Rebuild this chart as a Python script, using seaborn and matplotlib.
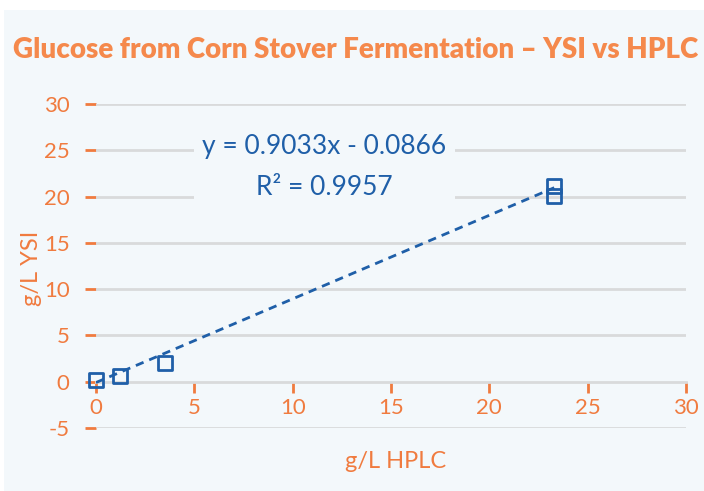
import matplotlib
matplotlib.use("Agg")
import matplotlib.pyplot as plt
import seaborn as sns
import pandas as pd
from matplotlib.patches import Rectangle

# values
hplc = [0.0, 1.2, 3.5, 23.3, 23.3]
ysi = [0.2, 0.6, 2.0, 21.1, 20.1]
slope = 0.9033
intercept = -0.0866
r2 = 0.9957
x_ticks = [0, 5, 10, 15, 20, 25, 30]
y_ticks = [-5, 0, 5, 10, 15, 20, 25, 30]

title = "Glucose from Corn Stover Fermentation \u2013 YSI vs HPLC"
orange = "#f07b3f"
title_orange = "#f5894c"
blue = "#1f5fa8"
bg = "#f3f8fb"
grid = "#d9dadb"

sns.set_theme(style="white")
plt.rcParams["font.family"] = ["Lato", "DejaVu Sans"]
plt.rcParams["axes.unicode_minus"] = False

df = pd.DataFrame({"hplc": hplc, "ysi": ysi})

fig = plt.figure(figsize=(7.04, 4.91), dpi=100, facecolor="white")
fig.patches.append(Rectangle((4 / 704, 0), 1, 1 - 10 / 491, transform=fig.transFigure,
                             facecolor=bg, edgecolor="none", zorder=-10))
ax = fig.add_axes([96 / 704, 1 - 428 / 491, 590 / 704, 324 / 491])
ax.set_facecolor("none")

# gridlines
for yv in y_ticks:
    if yv != 0:
        ax.axhline(yv, color=grid, lw=2, zorder=1)

# trendline
x_end = max(hplc)
ax.plot([0, x_end], [intercept, slope * x_end + intercept], ls=(0, (3, 2.2)),
        color=blue, lw=2, zorder=3)

sns.scatterplot(data=df, x="hplc", y="ysi", marker="s", s=100, facecolor="none",
                edgecolor=blue, linewidth=2, ax=ax, zorder=4, clip_on=False)

ax.set_xlim(0, 30)
ax.set_ylim(-5, 30)
ax.set_xticks(x_ticks)
ax.set_yticks(y_ticks)

for side in ["left", "right", "top"]:
    ax.spines[side].set_visible(False)
ax.spines["bottom"].set_position(("data", 0))
ax.spines["bottom"].set_color(grid)
ax.spines["bottom"].set_linewidth(2)
ax.spines["bottom"].set_zorder(1)

ax.tick_params(axis="x", colors=orange, labelcolor=orange, direction="out",
               length=8, width=2, labelsize=16, pad=4, bottom=True)
ax.tick_params(axis="y", colors=orange, labelcolor=orange, direction="out",
               length=8, width=2, labelsize=16, pad=11, left=True)

ax.set_xlabel("")
ax.set_ylabel("")
fig.text(396 / 704, 1 - 462 / 491, "g/L HPLC", color=orange, fontsize=17,
         ha="center", va="center")
fig.text(31 / 704, 1 - 268 / 491, "g/L YSI", color=orange, fontsize=17,
         ha="center", va="center", rotation=90)

fig.text(356 / 704, 1 - 50 / 491, title, color=title_orange, fontsize=20,
         fontweight="heavy", ha="center", va="center")

ax.text(11.6, 23.2, f"y = {slope}x - {abs(intercept)}\nR\u00b2 = {r2}", color=blue,
        fontsize=19, ha="center", va="center", linespacing=1.8, zorder=5,
        bbox=dict(facecolor=bg, edgecolor="none", pad=6))

fig.savefig("out.png", dpi=100)
